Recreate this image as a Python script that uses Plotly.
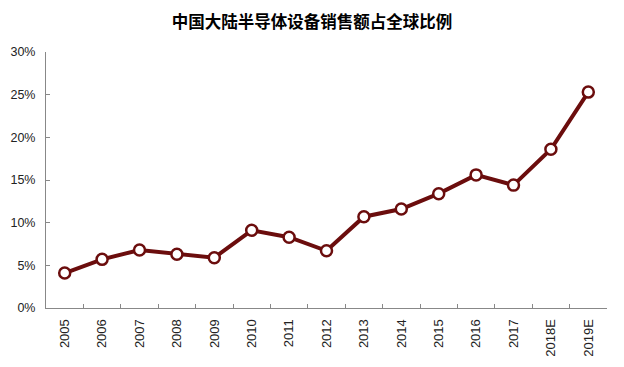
import plotly.graph_objects as go

years = ["2005", "2006", "2007", "2008", "2009", "2010", "2011", "2012",
         "2013", "2014", "2015", "2016", "2017", "2018E", "2019E"]
share = [0.041, 0.057, 0.068, 0.063, 0.059, 0.091, 0.083, 0.067,
         0.107, 0.116, 0.134, 0.156, 0.144, 0.186, 0.253]
y_ticks = [0, 0.05, 0.10, 0.15, 0.20, 0.25, 0.30]
y_labels = ["0%", "5%", "10%", "15%", "20%", "25%", "30%"]
title = "中国大陆半导体设备销售额占全球比例"

fig = go.Figure()
fig.add_trace(go.Scatter(
    x=years, y=share, mode="lines+markers",
    line=dict(color="#6b0d0d", width=4),
    marker=dict(symbol="circle", size=11, color="white",
                line=dict(color="#6b0d0d", width=2.5)),
    hoverinfo="x+y"))

fig.update_layout(
    width=616, height=359,
    margin=dict(l=38, r=17, t=44, b=59, autoexpand=False),
    paper_bgcolor="white", plot_bgcolor="white",
    showlegend=False,
    title=dict(text="<b>" + title + "</b>", x=(312 - 8) / 616, xanchor="center",
               y=1 - 14.5 / 359, yanchor="middle",
               font=dict(family="Noto Sans CJK SC", size=16.5, color="#000")),
    font=dict(family="Liberation Sans, Arial", size=13, color="#222"),
)
fig.update_xaxes(
    type="category", tickangle=-90, showgrid=False,
    showline=True, linecolor="#888", linewidth=1,
    ticks="inside", ticklen=4, tickcolor="#888", tickson="boundaries",
    ticklabelstandoff=5,
    tickfont=dict(size=13, color="#222"),
    range=[-0.5, len(years) - 0.5])
fig.update_yaxes(
    range=[0, 0.30], tickvals=y_ticks, ticktext=y_labels,
    showgrid=False, zeroline=False,
    showline=True, linecolor="#888", linewidth=1,
    ticks="inside", ticklen=4, tickcolor="#888", ticklabelstandoff=7,
    tickfont=dict(size=12.5, color="#222"))

fig.write_html("out.html")
